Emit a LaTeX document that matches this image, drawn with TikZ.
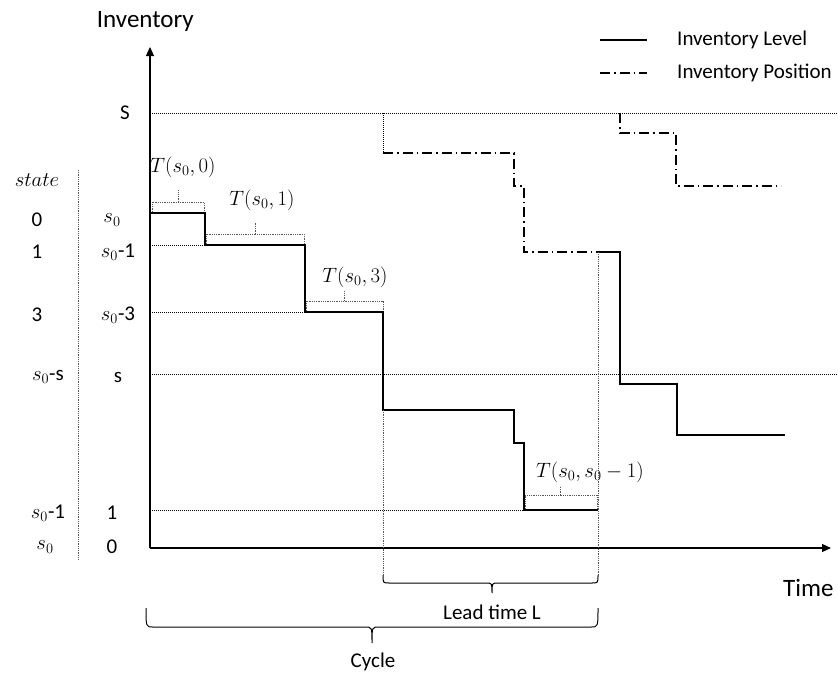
\documentclass[tikz,border=0pt]{standalone}
\usepackage{fontspec}
\setmainfont{Carlito}
\usetikzlibrary{arrows.meta}
\begin{document}
\begin{tikzpicture}[x=1pt,y=-1pt,
 lbl/.style={font=\fontsize{21}{25}\selectfont, inner sep=0pt},
 leg/.style={font=\fontsize{21}{25}\selectfont, inner sep=0pt, anchor=west},
 big/.style={font=\fontsize{25}{29}\selectfont, inner sep=0pt},
 mth/.style={font=\fontsize{21.5}{25}\selectfont, inner sep=0pt},
 axis/.style={line width=1.1pt, -{Triangle[length=9pt,width=8pt]}},
 lvl/.style={line width=1.1pt},
 posline/.style={line width=1.1pt, dash pattern=on 10pt off 4pt on 1.5pt off 4pt},
 gridl/.style={line width=0.8pt, dash pattern=on 0.8pt off 1.2pt},
 brk/.style={line width=0.8pt, gray!70!black, dash pattern=on 0.8pt off 1pt},
 brc/.style={line width=1pt}]
\useasboundingbox (0,0) rectangle (838,675);

% axes
\coordinate (O) at (150,548);
\coordinate (Ytop) at (150,47);
\coordinate (Xend) at (831,548);
\draw[axis] (O) -- (Ytop);
\draw[axis] (O) -- (Xend);
\node[big, anchor=east] (ylab) at (194,21) {Inventory};
\node[big, anchor=west] (xlab) at (783,588) {Time};

% grid lines
\draw[gridl] (150,113) -- (838,113);
\draw[gridl] (150,245) -- (205,245);
\draw[gridl] (150,312) -- (305,312);
\draw[gridl] (150,374) -- (838,374);
\draw[gridl] (150,510) -- (524,510);

% left separator
\draw[brk] (78,170) -- (78,560);

% labels
\node[lbl] (S) at (125,113) {S};
\node[mth] (st) at (37,180) {$state$};
\node[lbl] (st0) at (37,220) {0};
\node[lbl] (st1) at (37,252) {1};
\node[lbl] (st3) at (37,315) {3};
\node[lbl] (sts) at (48,377) {$s_0$-s};
\node[lbl] (stm) at (48,513) {$s_0$-1};
\node[lbl] (sts0) at (45,547) {$s_0$};
\node[lbl] (l0) at (112,220) {$s_0$};
\node[lbl] (l1) at (118,252) {$s_0$-1};
\node[lbl] (l3) at (118,315) {$s_0$-3};
\node[lbl] (ls) at (118,377) {s};
\node[lbl] (lone) at (112,513) {1};
\node[lbl] (lzero) at (112,547) {0};

% inventory level
\draw[lvl] (150,213) -- (205,213) -- (205,245) -- (305,245) -- (305,312) -- (383,312) -- (383,410) -- (514,410) -- (514,443) -- (524,443) -- (524,510) -- (598,510);
\draw[lvl] (597,252) -- (620,252) -- (620,384) -- (677,384) -- (677,435) -- (785,435);

% inventory position
\draw[gridl] (383,113) -- (383,153);
\draw[posline] (383,153) -- (514,153) -- (514,186) -- (524,186) -- (524,252) -- (597,252);
\draw[posline] (620,113) -- (620,133) -- (676,133) -- (676,186) -- (781,186);

% lead time verticals
\draw[brk] (383,410) -- (383,575);
\draw[brk] (598,252) -- (598,575);

% T brackets
\draw[brk] (152,212) -- (152,202) -- (204,202) -- (204,212);
\draw[brk] (178,202) -- (178,190);
\node[mth] (T0) at (183,167) {$T(s_0,0)$};
\draw[brk] (206,244) -- (206,234) -- (304,234) -- (304,244);
\draw[brk] (255,234) -- (255,223);
\node[mth] (T1) at (262,200) {$T(s_0,1)$};
\draw[brk] (306,311) -- (306,301) -- (383,301) -- (383,311);
\draw[brk] (344,301) -- (344,291);
\node[mth] (T3) at (355,277) {$T(s_0,3)$};
\draw[brk] (525,509) -- (525,495) -- (597,495) -- (597,509);
\draw[brk] (560,495) -- (560,486);
\node[mth] (Tn) at (590,472) {$T(s_0,s_0-1)$};

% lead time brace
\draw[brc] (383,575) .. controls (383,583) .. (389,583) -- (486,583) .. controls (492,583) .. (492,593)
  .. controls (492,583) .. (498,583) -- (592,583) .. controls (598,583) .. (598,575);
\node[lbl] (lt) at (492,612) {Lead time L};

% cycle brace
\draw[brc] (146,608) .. controls (146,627) .. (153,627) -- (365,627) .. controls (372,627) .. (372,643)
  .. controls (372,627) .. (379,627) -- (591,627) .. controls (598,627) .. (598,608);
\node[lbl] (cy) at (373,662) {Cycle};

% legend
\draw[lvl] (600,40) -- (647,40);
\draw[posline] (600,73) -- (647,73);
\node[leg] (lg1) at (677,40) {Inventory Level};
\node[leg] (lg2) at (677,73) {Inventory Position};
\end{tikzpicture}
\end{document}
